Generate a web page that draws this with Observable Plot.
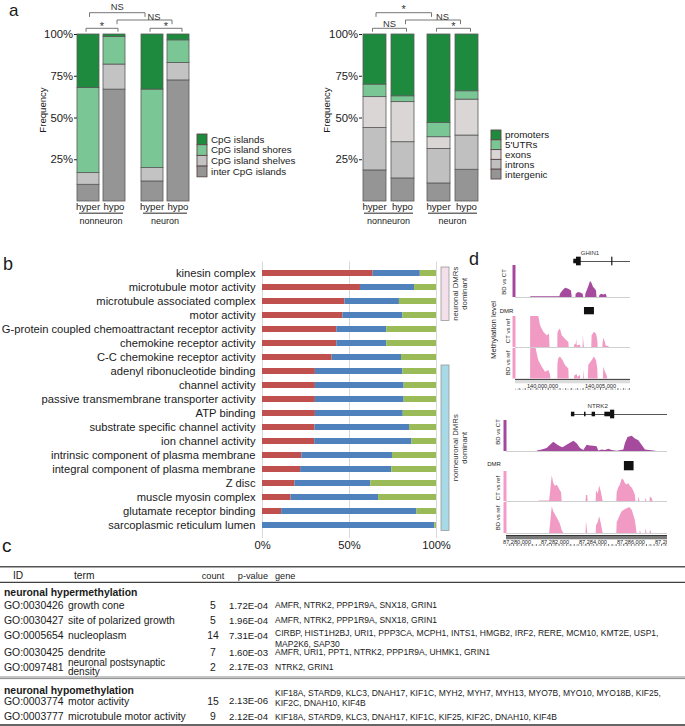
<!DOCTYPE html>
<html><head><meta charset="utf-8">
<script src="https://cdn.jsdelivr.net/npm/d3@7"></script>
<script src="https://cdn.jsdelivr.net/npm/@observablehq/plot@0.6"></script>
<style>
html,body{margin:0;padding:0;background:#fff;}
#root{position:relative;width:685px;height:726px;overflow:hidden;font-family:"Liberation Sans",Arial,sans-serif;color:#1a1a1a;}
</style></head>
<body><div id="root"></div>
<script>
// ================= DATA =================
// --- panel a ---
const aGroups = ["nonneuron", "neuron"];
const aConds = ["hyper", "hypo"];
const cpgCats = ["CpG islands", "CpG island shores", "CpG island shelves", "inter CpG islands"]; // legend order, top of bar first
const cpgColors = ["#1d8a3d", "#7ac694", "#c3c3c3", "#959595"];
const cpgNonneuronHyper = [32, 51, 7, 10];
const cpgNonneuronHypo = [1.5, 16.5, 15, 67];
const cpgNeuronHyper = [33, 47, 8, 12];
const cpgNeuronHypo = [3.5, 13.5, 10.5, 72.5];
const featCats = ["promoters", "5'UTRs", "exons", "introns", "intergenic"];
const featColors = ["#1d8a3d", "#7ac694", "#dad6d6", "#c0c0c0", "#959595"];
const featNonneuronHyper = [30, 7.5, 18.5, 25.4, 18.6];
const featNonneuronHypo = [37, 3.5, 24, 21.7, 13.8];
const featNeuronHyper = [53, 8.5, 7, 20.7, 10.8];
const featNeuronHypo = [34, 5, 21.5, 20.5, 19];
const yTicksA = [25, 50, 75, 100];
const cpgTests = [
  {a: ["nonneuron", "hyper"], b: ["neuron", "hyper"], level: 0, label: "NS"},
  {a: ["nonneuron", "hypo"], b: ["neuron", "hypo"], level: 1, label: "NS"},
  {a: ["nonneuron", "hyper"], b: ["nonneuron", "hypo"], level: 2, label: "*"},
  {a: ["neuron", "hyper"], b: ["neuron", "hypo"], level: 2, label: "*"}
];
const featTests = [
  {a: ["nonneuron", "hyper"], b: ["neuron", "hyper"], level: 0, label: "*"},
  {a: ["nonneuron", "hypo"], b: ["neuron", "hypo"], level: 1, label: "NS"},
  {a: ["nonneuron", "hyper"], b: ["nonneuron", "hypo"], level: 2, label: "NS"},
  {a: ["neuron", "hyper"], b: ["neuron", "hypo"], level: 2, label: "*"}
];

// --- panel b ---
const goTerms = ["kinesin complex", "microtubule motor activity", "microtubule associated complex", "motor activity",
  "G-protein coupled chemoattractant receptor activity", "chemokine receptor activity", "C-C chemokine receptor activity",
  "adenyl ribonucleotide binding", "channel activity", "passive transmembrane transporter activity", "ATP binding",
  "substrate specific channel activity", "ion channel activity", "intrinsic component of plasma membrane",
  "integral component of plasma membrane", "Z disc", "muscle myosin complex", "glutamate receptor binding",
  "sarcoplasmic reticulum lumen"];
const goSeries = ["neuronal DMRs", "nonneuronal DMRs", "both"];
const goColors = ["#c0504d", "#4f81bd", "#9bbb59"];
const goNeuronal = [63.6, 56.3, 47.4, 46.2, 42.7, 42.7, 40, 30.4, 30.4, 30.4, 30.4, 30.2, 30, 22.6, 21.9, 18.6, 16.4, 11, 0];
const goNonneuronal = [27.1, 31.1, 31.3, 34.5, 28.7, 28.7, 39.9, 50.3, 51, 51, 50.5, 54.3, 55.9, 52.1, 52.4, 43.7, 50.3, 77.8, 99];
const goBoth = [9.3, 12.6, 21.3, 19.3, 28.6, 28.6, 20.1, 19.3, 18.6, 18.6, 19.1, 15.5, 14.1, 25.3, 25.7, 37.7, 33.3, 11.2, 1];
const xTicksB = [0, 50, 100];
const goDominance = [
  {label: ["neuronal DMRs", "dominant"], from: "kinesin complex", to: "motor activity", fill: "#f4e0eb"},
  {label: ["nonneuronal DMRs", "dominant"], from: "adenyl ribonucleotide binding", to: "sarcoplasmic reticulum lumen", fill: "#a8d9e6"}
];

// --- panel c ---
const tabHeader = ["ID", "term", "count", "p-value", "gene"];
const tabGroups = ["neuronal hypermethylation", "neuronal hypomethylation"];
const tabIds = ["GO:0030426", "GO:0030427", "GO:0005654", "GO:0030425", "GO:0097481", "GO:0003774", "GO:0003777"];
const tabTerms = ["growth cone", "site of polarized growth", "nucleoplasm", "dendrite", "neuronal postsynaptic density", "motor activity", "microtubule motor activity"];
const tabCounts = [5, 5, 14, 7, 2, 15, 9];
const tabPvalues = ["1.72E-04", "1.96E-04", "7.31E-04", "1.60E-03", "2.17E-03", "2.13E-06", "2.12E-04"];
const tabGenes = [
  "AMFR, NTRK2, PPP1R9A, SNX18, GRIN1",
  "AMFR, NTRK2, PPP1R9A, SNX18, GRIN1",
  "CIRBP, HIST1H2BJ, URI1, PPP3CA, MCPH1, INTS1, HMGB2, IRF2, RERE, MCM10, KMT2E, USP1, MAP2K6, SAP30",
  "AMFR, URI1, PPT1, NTRK2, PPP1R9A, UHMK1, GRIN1",
  "NTRK2, GRIN1",
  "KIF18A, STARD9, KLC3, DNAH17, KIF1C, MYH2, MYH7, MYH13, MYO7B, MYO10, MYO18B, KIF25, KIF2C, DNAH10, KIF4B",
  "KIF18A, STARD9, KLC3, DNAH17, KIF1C, KIF25, KIF2C, DNAH10, KIF4B"
];

// --- panel d (positions in kb from the region origin, value = relative methylation level) ---
const ghOriginBp = 140000000;
const ghDomainKb = [-2.33, 7.59];
const ghLabelTicksKb = [0, 5];
const ghGeneName = "GHIN1";
const ghGeneSpanKb = [2.7, 7.59];
const ghExonStart = [2.70, 2.93, 5.97];
const ghExonEnd = [2.93, 3.34, 6.07];
const ghExonKind = ["thin", "thick", "thick"];
const ghDMR = [3.62, 4.48];
const ghBDvsCT = [[-1.03,0],[-1.0,0.02],[1.5,0.02],[1.55,0.1],[1.7,0.18],[1.85,0.24],[2.0,0.29],[2.15,0.27],[2.3,0.25],[2.5,0.2],[2.56,0],[2.88,0],[2.9,0.1],[3.1,0.16],[3.3,0.14],[3.5,0.1],[3.56,0],[3.71,0],[3.75,0.12],[3.9,0.25],[4.05,0.4],[4.14,0.5],[4.25,0.45],[4.4,0.32],[4.55,0.26],[4.66,0.2],[4.7,0],[4.91,0],[4.95,0.06],[5.1,0.1],[5.3,0.08],[5.5,0.1],[5.58,0]];
const ghCTvsRef = [[-1.03,0],[-1.02,1.0],[-0.32,1.0],[-0.17,0.7],[0.11,0.49],[0.4,0.38],[0.6,0.43],[0.65,0],[1.32,0],[1.33,0.45],[1.41,0.54],[1.55,0.6],[1.7,0.38],[1.98,0.27],[2.27,0.16],[2.3,0],[2.76,0],[2.77,0.08],[2.9,0.1],[2.95,0.25],[3.0,0.05],[3.28,0.08],[3.3,0],[3.5,0],[3.52,0.38],[3.6,0.05],[3.65,0],[4.25,0],[4.28,0.38],[4.48,0.49],[4.66,0.43],[4.77,0.22],[4.8,0],[5.2,0],[5.23,0.15],[5.29,0.3],[5.43,0.15],[5.49,0.05],[5.72,0.03],[5.75,0]];
const ghBDvsRef = [[-1.03,0],[-1.02,1.0],[-0.55,1.0],[-0.46,0.83],[-0.32,0.6],[-0.03,0.39],[0.26,0.22],[0.55,0.28],[0.69,0.14],[0.72,0],[1.32,0],[1.33,0.5],[1.41,0.67],[1.55,0.72],[1.78,0.6],[1.98,0.44],[2.27,0.33],[2.3,0],[2.76,0],[2.78,0.1],[2.99,0.15],[3.05,0.05],[3.28,0.12],[3.3,0],[3.54,0],[3.56,0.3],[3.62,0],[3.95,0],[3.99,0.44],[4.28,0.6],[4.48,0.72],[4.66,0.6],[4.77,0.33],[4.8,0],[5.25,0],[5.29,0.39],[5.43,0.22],[5.58,0.11],[5.62,0]];

const ntOriginBp = 87284000;
const ntDomainKb = [-4.37, 4.11];
const ntLabelTicksKb = [-4, -2, 0, 2, 4];
const ntGeneName = "NTRK2";
const ntGeneSpanKb = [-0.95, 4.11];
const ntExonStart = [-0.95, -0.26, 0.14, 0.81, 1.11];
const ntExonEnd = [-0.77, -0.18, 0.32, 1.11, 1.33];
const ntExonKind = ["thin", "thin", "thin", "thin", "thick"];
const ntDMR = [1.84, 2.35];
const ntBDvsCT = [[-2.75,0],[-2.74,0.02],[-2.49,0.05],[-2.23,0.1],[-2.05,0.2],[-1.88,0.3],[-1.70,0.22],[-1.53,0.15],[-1.39,0.12],[-1.18,0.2],[-1.0,0.27],[-0.82,0.33],[-0.65,0.25],[-0.47,0.1],[-0.30,0.03],[-0.12,0.2],[0.05,0.18],[0.23,0.17],[0.40,0.15],[0.49,0.02],[0.67,0.05],[0.84,0.03],[1.02,0.07],[1.19,0.03],[1.46,0.01],[1.81,0.05],[1.89,0.25],[2.03,0.45],[2.25,0.49],[2.42,0.4],[2.6,0.35],[2.77,0.2],[2.95,0.05],[3.39,0.02],[3.56,0]];
const ntCTvsRef = [[-2.66,0],[-2.65,0.02],[-2.1,0.02],[-2.05,0.3],[-1.96,0.86],[-1.88,0.6],[-1.79,0.5],[-1.70,0.55],[-1.61,0.45],[-1.53,0.35],[-1.47,0.3],[-1.44,0],[-0.18,0],[-0.16,0.2],[-0.09,0.2],[-0.07,0],[0.35,0],[0.37,0.35],[0.46,0.25],[0.54,0.52],[0.63,0.3],[0.72,0],[1.44,0],[1.46,0.3],[1.54,0.45],[1.63,0.55],[1.72,0.74],[1.81,0.72],[1.89,0.6],[1.98,0.55],[2.07,0.6],[2.16,0.5],[2.25,0.45],[2.33,0.35],[2.42,0.2],[2.45,0],[2.58,0],[2.6,0.15],[2.66,0],[2.96,0],[2.98,0.12],[3.03,0],[3.19,0],[3.21,0.15],[3.30,0.1],[3.35,0]];
const ntBDvsRef = [[-2.1,0],[-2.05,0.3],[-1.96,0.86],[-1.88,0.7],[-1.79,0.6],[-1.70,0.5],[-1.61,0.4],[-1.53,0.3],[-1.44,0.1],[-1.35,0],[-0.18,0],[-0.16,0.38],[-0.09,0],[0.35,0],[0.37,0.25],[0.46,0.35],[0.54,0.54],[0.63,0.3],[0.72,0],[1.44,0],[1.46,0.35],[1.6,0.55],[1.72,0.7],[1.84,0.75],[1.98,0.8],[2.12,0.84],[2.25,0.75],[2.33,0.6],[2.42,0.4],[2.51,0],[2.66,0],[2.68,0.1],[2.73,0],[2.96,0],[2.98,0.15],[3.03,0],[3.19,0],[3.21,0.12],[3.28,0]];
const trackNames = ["BD vs CT", "CT vs ref", "BD vs ref"];

// ================= HELPERS =================
const root = document.getElementById("root");
const FONT = '"Liberation Sans", Arial, Helvetica, sans-serif';
const ann = d3.select(root).append("svg").attr("width", 685).attr("height", 726)
  .style("position", "absolute").style("left", "0px").style("top", "0px").style("z-index", 5)
  .style("font-family", FONT).style("overflow", "visible");
function T(s, x, y, o = {}) {
  const t = ann.append("text").attr("x", x).attr("y", y)
    .attr("dy", o.dy ?? "0.35em").attr("font-size", o.size ?? 10)
    .attr("text-anchor", o.anchor ?? "start").attr("fill", o.fill ?? "#1a1a1a").text(s);
  if (o.weight) t.attr("font-weight", o.weight);
  if (o.rotate) t.attr("transform", `rotate(${o.rotate} ${x} ${y})`);
  return t;
}
function Ln(x1, y1, x2, y2, stroke = "#666", w = 1) {
  ann.append("line").attr("x1", x1).attr("y1", y1).attr("x2", x2).attr("y2", y2).attr("stroke", stroke).attr("stroke-width", w);
}
function Rc(x, y, w, h, fill, stroke, sw = 0.8) {
  ann.append("rect").attr("x", x).attr("y", y).attr("width", w).attr("height", h).attr("fill", fill)
    .attr("stroke", stroke || "none").attr("stroke-width", sw);
}
function place(el, left, top) {
  el.style.position = "absolute"; el.style.left = left + "px"; el.style.top = top + "px";
  el.style.maxWidth = "none"; el.style.background = "none"; el.style.overflow = "visible";
  root.appendChild(el); return el;
}
function sty(fs) { return {background: "none", fontFamily: FONT, fontSize: fs + "px", color: "#1a1a1a", overflow: "visible"}; }
function bandScale(plot, name) {
  const s = plot.scale(name);
  if (s.apply && s.bandwidth != null) return {apply: s.apply, bw: s.bandwidth, range: s.range};
  const b = d3.scaleBand(s.domain, s.range).paddingInner(s.paddingInner ?? 0.1).paddingOuter(s.paddingOuter ?? 0.1).align(s.align ?? 0.5);
  if (s.round) b.round(true);
  return {apply: b, bw: b.bandwidth(), range: s.range};
}

// ================= PANEL LABELS =================
T("a", 9, 16, {size: 17, dy: 0});
T("b", 3, 270, {size: 18, dy: 0});
T("c", 2, 552, {size: 19, dy: 0});
T("d", 469, 265, {size: 18, dy: 0});

// ================= PANEL a =================
function stackedPanel(cfg) {
  const rows = [];
  aGroups.forEach(g => aConds.forEach(c => {
    const vals = cfg.values[g][c];
    for (let i = cfg.cats.length - 1; i >= 0; --i) rows.push({group: g, cond: c, cat: cfg.cats[i], v: vals[i]});
  }));
  const plot = Plot.plot({
    width: cfg.width, height: 230,
    marginLeft: cfg.marginLeft, marginRight: 6, marginTop: 34, marginBottom: 29,
    style: sty(11.3),
    facet: {data: rows, x: "group"},
    fx: {domain: aGroups, paddingInner: cfg.fxPad, paddingOuter: 0, axis: null, label: null},
    x: {domain: aConds, paddingInner: cfg.xPad, paddingOuter: 0, axis: null, label: null},
    y: {domain: [0, 100], ticks: yTicksA, tickFormat: d => d + "%", tickSize: 3, tickPadding: 1.5, label: null},
    color: {domain: cfg.cats, range: cfg.colors},
    marks: [Plot.barY(rows, {x: "cond", y: "v", fill: "cat", stroke: "#5a5a5a", strokeWidth: 0.8})]
  });
  place(plot, cfg.left, 0);
  const fx = bandScale(plot, "fx"), xs = bandScale(plot, "x");
  const xr0 = Math.min(...xs.range);
  const cx = (g, c) => cfg.left + fx.apply(g) + xs.apply(c) - xr0 + xs.bw / 2;
  aGroups.forEach(g => {
    aConds.forEach(c => T(c, cx(g, c), 206.7, {size: 9.7, anchor: "middle"}));
    const gx = cfg.left + fx.apply(g);
    Ln(gx + 2, 213.3, gx + fx.bw - 2, 213.3, "#6e6e6e", 1.4);
    T(g, gx + fx.bw / 2, 220.5, {size: 9, anchor: "middle"});
  });
  T("Frequency", cfg.ylabelX, 110, {size: 9.6, anchor: "middle", rotate: -90});
  // significance brackets (end insets per bracket level)
  const levelY = [12.7, 20, 28.3], labelOff = [-5.7, -3.4, -4.5];
  const inset = [[1.5, -7], [3, -6], [-2, 4]];
  cfg.tests.forEach(t => {
    const x1 = cx(...t.a) + inset[t.level][0], x2 = cx(...t.b) + inset[t.level][1];
    const y = levelY[t.level], leg = y + (t.level === 2 ? 3.4 : 4.2);
    ann.append("path").attr("d", `M${x1},${leg}V${y}H${x2}V${leg}`).attr("fill", "none").attr("stroke", "#666").attr("stroke-width", 0.9);
    const star = t.label === "*";
    T(t.label, (x1 + x2) / 2 + (t.level === 1 ? 9.5 : 0), y + labelOff[t.level] + (star ? 2.6 : 0),
      {size: star ? 11 : 9.3, anchor: "middle", fill: "#333"});
  });
  cfg.cats.forEach((cat, i) => {
    Rc(cfg.legendX, cfg.legendTop + i * cfg.legendStep, 10, cfg.legendStep, cfg.colors[i], "#5a4545", 0.9);
    T(cat, cfg.legendX + 14, cfg.legendTop + i * cfg.legendStep + cfg.legendStep / 2, {size: 9.8});
  });
}
stackedPanel({
  left: 0, width: 195, marginLeft: 77, fxPad: 0.25, xPad: 0.154, ylabelX: 43,
  cats: cpgCats, colors: cpgColors, tests: cpgTests,
  values: {nonneuron: {hyper: cpgNonneuronHyper, hypo: cpgNonneuronHypo}, neuron: {hyper: cpgNeuronHyper, hypo: cpgNeuronHypo}},
  legendX: 197, legendTop: 134, legendStep: 10.7
});
stackedPanel({
  left: 300, width: 185, marginLeft: 62, fxPad: 0.172, xPad: 0.172, ylabelX: 327,
  cats: featCats, colors: featColors, tests: featTests,
  values: {nonneuron: {hyper: featNonneuronHyper, hypo: featNonneuronHypo}, neuron: {hyper: featNeuronHyper, hypo: featNeuronHypo}},
  legendX: 491, legendTop: 130, legendStep: 9.8
});

// ================= PANEL b =================
const goRows = [];
const goValues = [goNeuronal, goNonneuronal, goBoth];
goTerms.forEach((t, i) => goSeries.forEach((s, j) => goRows.push({term: t, series: s, v: goValues[j][i]})));
const bPlot = Plot.plot({
  width: 470, height: 308, marginLeft: 262, marginRight: 34, marginTop: 11.4, marginBottom: 20,
  style: sty(11.2),
  x: {domain: [0, 100], ticks: xTicksB, tickFormat: d => d + "%", tickSize: 0, tickPadding: 3, label: null},
  y: {domain: goTerms, paddingInner: 0.54, paddingOuter: 0.2, tickSize: 0, tickPadding: 7, label: null},
  color: {domain: goSeries, range: goColors},
  marks: [
    Plot.ruleX(xTicksB, {stroke: "#d9d9d9"}),
    Plot.barX(goRows, {y: "term", x: "v", fill: "series"})
  ]
});
place(bPlot, 0, 250);
{
  const yb = bandScale(bPlot, "y");
  goDominance.forEach(d => {
    const y1 = 250 + yb.apply(d.from) - 3, y2 = 250 + yb.apply(d.to) + yb.bw + 2.5;
    Rc(441, y1, 8, y2 - y1, d.fill, "#9a9a9a", 0.8);
    const cy = (y1 + y2) / 2;
    T(d.label[0], 455.5, cy, {size: 7.8, anchor: "middle", rotate: -90, fill: "#333"});
    T(d.label[1], 464, cy, {size: 7.8, anchor: "middle", rotate: -90, fill: "#333"});
  });
}

// ================= PANEL c (table) =================
{
  const rowY = [605.3, 620.3, 635.3, 652.3, 667, 701, 716.7];
  const groupY = [592.3, 690];
  const geneShift = [0, 0, -2, 0, 0, -8, 0];
  Ln(0, 566.7, 685, 566.7, "#555", 1.6);
  const hy = 575.5;
  T(tabHeader[0], 13, hy, {size: 10.2});
  T(tabHeader[1], 74, hy, {size: 10.2});
  T(tabHeader[2], 213, hy, {size: 9.2, anchor: "middle"});
  T(tabHeader[3], 268, hy, {size: 9.2, anchor: "end"});
  T(tabHeader[4], 275, hy, {size: 9.2});
  Ln(0, 582.3, 685, 582.3, "#111", 1);
  tabGroups.forEach((g, i) => T(g, 4, groupY[i], {size: 10.4, weight: "bold"}));
  function wrap(text, maxW, size, sep) {
    const probe = T("", -1000, -1000, {size});
    const words = text.split(sep === "," ? ", " : " ");
    const lines = []; let cur = "";
    words.forEach((w, k) => {
      const piece = sep === "," && k < words.length - 1 ? w + "," : w;
      const cand = cur ? cur + " " + piece : piece;
      probe.text(cand);
      if (cur && probe.node().getComputedTextLength() > maxW) { lines.push(cur); cur = piece; } else cur = cand;
    });
    if (cur) lines.push(cur);
    probe.remove();
    return lines;
  }
  tabIds.forEach((id, i) => {
    const y = rowY[i];
    T(id, 4, y, {size: 10.4});
    const tl = wrap(tabTerms[i], 128, 10.4, " ");
    if (tl.length === 1) T(tl[0], 68, y, {size: 10.4});
    else tl.forEach((s, k) => T(s, 68, y - 4.9 + k * 9.8, {size: 10}));
    T(String(tabCounts[i]), 213, y, {size: 10.4, anchor: "middle"});
    T(tabPvalues[i], 268, y, {size: 9.6, anchor: "end"});
    const gl = wrap(tabGenes[i], 392, 8.5, ",");
    if (gl.length === 1) T(gl[0], 275, y, {size: 8.5});
    else gl.forEach((s, k) => T(s, 275, y + geneShift[i] + k * 10.5, {size: 8.5}));
  });
  Ln(0, 677, 685, 677, "#8a8a8a", 1);
  Ln(0, 678.6, 685, 678.6, "#8a8a8a", 1);
  Ln(0, 725, 685, 725, "#333", 1.5);
}

// ================= PANEL d =================
function track(data, cfg) {
  const p = Plot.plot({
    width: cfg.width, height: cfg.height, marginLeft: 3, marginRight: 0, marginTop: 0, marginBottom: 0,
    style: sty(6),
    x: {domain: cfg.domain, axis: null}, y: {domain: [0, 1], axis: null},
    marks: [
      Plot.ruleY([0], {stroke: "#cfcfcf", strokeWidth: 1}),
      Plot.areaY(data, {x: d => d[0], y: d => d[1], fill: cfg.color}),
      Plot.ruleX([cfg.domain[0]], {stroke: cfg.bar, strokeWidth: 3, dx: -1.5})
    ]
  });
  place(p, cfg.left, cfg.top);
}
function geneModel(cfg) {
  const exons = cfg.starts.map((s, i) => ({x1: s, x2: cfg.ends[i], kind: cfg.kinds[i]}));
  const half = {thin: 0.38, thick: 0.72};
  const p = Plot.plot({
    width: cfg.width, height: 12, marginLeft: 3, marginRight: 0, marginTop: 0, marginBottom: 0,
    style: sty(6),
    x: {domain: cfg.domain, axis: null}, y: {domain: [-1, 1], axis: null},
    marks: [
      Plot.ruleY([0], {x1: cfg.span[0], x2: cfg.span[1], stroke: "#555", strokeWidth: 1}),
      Plot.rect(exons, {x1: "x1", x2: "x2", y1: d => -half[d.kind], y2: d => half[d.kind], fill: "#111"})
    ]
  });
  place(p, cfg.left, cfg.top);
}
function dmrRow(cfg) {
  const p = Plot.plot({
    width: cfg.width, height: cfg.height, marginLeft: 3, marginRight: 0, marginTop: 0, marginBottom: 0,
    style: sty(6),
    x: {domain: cfg.domain, axis: null}, y: {domain: [0, 1], axis: null},
    marks: [Plot.rect([cfg.dmr], {x1: d => d[0], x2: d => d[1], y1: 0, y2: 1, fill: "#111"})]
  });
  place(p, cfg.left, cfg.top);
}
function ruler(cfg) {
  const fmt = d3.format(",");
  const minor = d3.ticks(cfg.domain[0], cfg.domain[1], cfg.minorCount);
  const p = Plot.plot({
    width: cfg.width, height: 12, marginLeft: 3, marginRight: 0, marginTop: 0, marginBottom: 0,
    style: sty(5.6),
    x: {domain: cfg.domain, axis: null}, y: {domain: [0, 12], axis: null},
    marks: [
      Plot.rect([0], {x1: cfg.domain[0], x2: cfg.domain[1], y1: 7.7, y2: 12, fill: cfg.band}),
      Plot.ruleY([12], {stroke: "#222", strokeWidth: 0.8}),
      Plot.ruleY([2.3], {stroke: "#555", strokeWidth: 0.5, strokeDasharray: "1,1.5"}),
      Plot.ruleX(minor, {y1: 1.2, y2: 3, stroke: "#333", strokeWidth: 0.6}),
      Plot.text(cfg.labels, {x: d => d, y: 5.3, text: d => fmt(cfg.origin + d * 1000), fontSize: 5.6, fill: "#222", dx: cfg.dx ?? 0})
    ]
  });
  place(p, cfg.left, cfg.top);
  if (cfg.clipRight) p.style.clipPath = "inset(-6px 0px -6px -30px)";
}

// GHIN1 region
{
  const left = 512, width = 118, domain = ghDomainKb;
  geneModel({left, width, top: 255, domain, span: ghGeneSpanKb, starts: ghExonStart, ends: ghExonEnd, kinds: ghExonKind});
  T(ghGeneName, 590, 252.5, {size: 6, anchor: "middle", fill: "#333"});
  track(ghBDvsCT, {left, width, top: 265, height: 32, domain, color: "#a54a9d", bar: "#a4489e"});
  dmrRow({left, width, top: 306.7, height: 7.3, domain, dmr: ghDMR});
  track(ghCTvsRef, {left, width, top: 316, height: 31, domain, color: "#f09ac4", bar: "#f49ac7"});
  track(ghBDvsRef, {left, width, top: 348, height: 30.5, domain, color: "#f09ac4", bar: "#f49ac7"});
  ruler({left, width, top: 379, domain, origin: ghOriginBp, labels: ghLabelTicksKb, band: "#dcdcdc", minorCount: 20});
  T(trackNames[0], 504.3, 282, {size: 6, anchor: "middle", rotate: -90});
  T("Methylation level", 493, 330, {size: 7.8, anchor: "middle", rotate: -90});
  T("DMR", 506.5, 310.5, {size: 6, anchor: "middle"});
  T(trackNames[1], 508, 331, {size: 6, anchor: "middle", rotate: -90});
  T(trackNames[2], 508, 363, {size: 6, anchor: "middle", rotate: -90});
}
// NTRK2 region
{
  const left = 503, width = 164, domain = ntDomainKb;
  geneModel({left, width, top: 408.3, domain, span: ntGeneSpanKb, starts: ntExonStart, ends: ntExonEnd, kinds: ntExonKind});
  T(ntGeneName, 597.7, 405.7, {size: 6.2, anchor: "middle", fill: "#333"});
  track(ntBDvsCT, {left, width, top: 420, height: 31, domain, color: "#a54a9d", bar: "#a4489e"});
  dmrRow({left, width, top: 460.7, height: 9.3, domain, dmr: ntDMR});
  track(ntCTvsRef, {left, width, top: 470.7, height: 30, domain, color: "#f09ac4", bar: "#f49ac7"});
  track(ntBDvsRef, {left, width, top: 502.3, height: 31, domain, color: "#f09ac4", bar: "#f49ac7"});
  ruler({left, width, top: 535, domain, origin: ntOriginBp, labels: ntLabelTicksKb, band: "#7a7a7a", minorCount: 30, dx: 3.5, clipRight: true});
  T(trackNames[0], 498, 432, {size: 6, anchor: "middle", rotate: -90});
  T("DMR", 494, 463.5, {size: 6, anchor: "middle"});
  T(trackNames[1], 498, 488, {size: 6, anchor: "middle", rotate: -90});
  T(trackNames[2], 498, 518, {size: 6, anchor: "middle", rotate: -90});
}
</script>
</body></html>
